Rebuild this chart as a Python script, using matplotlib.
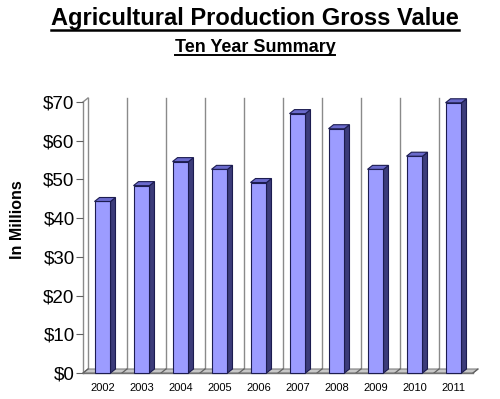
import matplotlib
matplotlib.use("Agg")
import matplotlib.pyplot as plt
from matplotlib.patches import Polygon
from matplotlib.lines import Line2D

years = ["2002", "2003", "2004", "2005", "2006", "2007", "2008", "2009", "2010", "2011"]
values = [44.3, 48.4, 54.6, 52.6, 49.2, 67.0, 63.1, 52.6, 56.0, 69.8]
yticks = [0, 10, 20, 30, 40, 50, 60, 70]
ytick_labels = ["$0", "$10", "$20", "$30", "$40", "$50", "$60", "$70"]

plt.rcParams['font.family'] = ['Liberation Sans', 'DejaVu Sans']

W, H = 500, 399
fig = plt.figure(figsize=(W / 100, H / 100), dpi=100)
ax_l, ax_r, ax_b, ax_t = 83, 473, 373, 102
ax = fig.add_axes([ax_l / W, (H - ax_b) / H, (ax_r - ax_l) / W, (ax_b - ax_t) / H])
ax.set_xlim(-0.5, len(years) - 0.5)
ax.set_ylim(0, 70)
for s in ax.spines.values():
    s.set_visible(False)
ax.patch.set_alpha(0)

# depth in data units
dpx, dpy = 5.0, 4.0
px_per_x = (ax_r - ax_l) / len(years)
px_per_y = (ax_b - ax_t) / 70.0
dx = dpx / px_per_x
dy = dpy / px_per_y

n = len(years)
grid_c = "#8a8a8a"
# back wall vertical gridlines
for k in range(n):
    xb = k - 0.5 + dx
    ax.add_line(Line2D([xb, xb], [dy, 70 + dy], color=grid_c, lw=1.0, zorder=1, clip_on=False))
# left wall edge / y axis
ax.add_line(Line2D([-0.5, -0.5], [0, 70], color=grid_c, lw=1.0, zorder=1, clip_on=False))
ax.add_line(Line2D([-0.5, -0.5 + dx], [70, 70 + dy], color=grid_c, lw=1.0, zorder=1, clip_on=False))
# floor
floor = Polygon([(-0.5, 0), (n - 0.5, 0), (n - 0.5 + dx, dy), (-0.5 + dx, dy)],
                closed=True, facecolor="#c8c8c8", edgecolor="#808080", lw=0.8, zorder=1, clip_on=False)
ax.add_patch(floor)
for k in range(n + 1):
    xf = k - 0.5
    ax.add_line(Line2D([xf, xf + dx], [0, dy], color="#606060", lw=0.9, zorder=1.5, clip_on=False))
ax.add_line(Line2D([-0.5, n - 0.5], [0, 0], color="#707070", lw=1.0, zorder=1.6, clip_on=False))

# bars
bw = 0.41
front_c, side_c, top_c, edge_c = "#9c9cff", "#3c3c7a", "#6a6acc", "#1c1c50"
xs = list(range(n))
bars = ax.bar(xs, values, width=bw, color=front_c, edgecolor=edge_c, linewidth=0.8, zorder=3)
for b in bars:
    b.set_clip_on(False)
for x, v in zip(xs, values):
    x0, x1 = x - bw / 2, x + bw / 2
    side = Polygon([(x1, 0), (x1 + dx, dy), (x1 + dx, v + dy), (x1, v)], closed=True,
                   facecolor=side_c, edgecolor=edge_c, lw=0.8, zorder=2.9, clip_on=False)
    top = Polygon([(x0, v), (x1, v), (x1 + dx, v + dy), (x0 + dx, v + dy)], closed=True,
                  facecolor=top_c, edgecolor=edge_c, lw=0.8, zorder=3.1, clip_on=False)
    ax.add_patch(side)
    ax.add_patch(top)

ax.set_yticks(yticks)
ax.set_yticklabels(ytick_labels, fontsize=13.5)
ax.set_xticks(xs)
ax.set_xticklabels(years, fontsize=8)
ax.tick_params(axis='y', length=5, width=0.8, color="#606060", pad=1)
ax.tick_params(axis='x', length=0, pad=7)

ax.set_ylabel("In Millions", fontsize=11.5, fontweight='bold')
ax.yaxis.set_label_coords(-0.149, 0.566)

t1 = fig.text(0.51, 1 - 19 / H, "Agricultural Production Gross Value", ha='center', va='center',
              fontsize=17, fontweight='bold')
t2 = fig.text(0.51, 1 - 47 / H, "Ten Year Summary", ha='center', va='center',
              fontsize=13, fontweight='bold')

fig.canvas.draw()
r = fig.canvas.get_renderer()
for t, lw in [(t1, 1.8), (t2, 1.4)]:
    bb = t.get_window_extent(r)
    yline = (bb.y0 + 1) / H
    fig.add_artist(Line2D([bb.x0 / W, bb.x1 / W], [yline, yline], color='black', lw=lw,
                          transform=fig.transFigure))

fig.savefig("out.png", dpi=100)
